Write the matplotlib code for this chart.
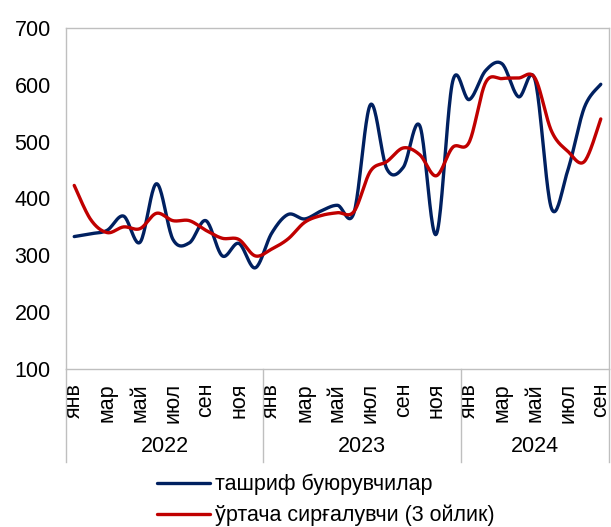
import numpy as np
import matplotlib
matplotlib.use('Agg')
import matplotlib.pyplot as plt
from matplotlib.lines import Line2D
import matplotlib.transforms as mtransforms

plt.rcParams['font.family'] = ['Liberation Sans', 'DejaVu Sans']

# ---- data ----
years = ['2022', '2023', '2024']
month_names = ['янв', 'фев', 'мар', 'апр', 'май', 'июн',
               'июл', 'авг', 'сен', 'окт', 'ноя', 'дек']
visitors = [333, 338, 344, 369, 323, 426, 328, 322, 361, 299, 321, 278,
            339, 372, 364, 378, 388, 375, 565, 452, 455, 528, 337, 606,
            574, 625, 637, 579, 609, 383, 450, 560, 601]
moving_avg = [423, 363, 340, 350, 347, 374, 361, 361, 344, 330, 328, 299,
              311, 329, 358, 370, 375, 377, 448, 465, 489, 477, 440, 490,
              499, 604, 611, 612, 612, 519, 483, 465, 540]
series_names = ['ташриф буюрувчилар', 'ўртача сирғалувчи (3 ойлик)']
colors = ['#002060', '#C00000']
yticks = [100, 200, 300, 400, 500, 600, 700]

n = len(visitors)
x = np.arange(n)
FS = 15.5


def smooth(xs, ys, steps=24):
    xs = np.asarray(xs, float)
    ys = np.asarray(ys, float)
    P = np.column_stack([xs, ys])
    out = []
    t = np.linspace(0, 1, steps)[:, None]
    for i in range(len(P) - 1):
        p0 = P[i - 1] if i > 0 else P[i]
        p1 = P[i]
        p2 = P[i + 1]
        p3 = P[i + 2] if i + 2 < len(P) else P[i + 1]
        c1 = p1 + (p2 - p0) / 6.0
        c2 = p2 - (p3 - p1) / 6.0
        seg = ((1 - t) ** 3) * p1 + 3 * ((1 - t) ** 2) * t * c1 + \
            3 * (1 - t) * t ** 2 * c2 + t ** 3 * p2
        out.append(seg if i == 0 else seg[1:])
    out = np.vstack(out)
    return out[:, 0], out[:, 1]


W, H = 611, 527
fig = plt.figure(figsize=(W / 100, H / 100), dpi=100)
L, R, T, B = 66, 609, 28, 369
ax = fig.add_axes([L / W, 1 - B / H, (R - L) / W, (B - T) / H])

for vals, c, lab in zip([visitors, moving_avg], colors, series_names):
    sx, sy = smooth(x, vals)
    ax.plot(sx, sy, color=c, lw=2.4, label=lab, solid_capstyle='round')

ax.set_xlim(-0.5, n - 0.5)
ax.set_ylim(100, 700)
ax.set_yticks(yticks)
ax.set_yticklabels([str(v) for v in yticks], fontsize=FS)
ax.tick_params(axis='y', length=0, pad=11)

month_ticks = list(range(0, n, 2))
ax.set_xticks(month_ticks)
ax.set_xticklabels([month_names[i % 12] for i in month_ticks],
                   rotation=90, fontsize=FS, va='top', ha='center')
ax.tick_params(axis='x', length=0, pad=10)

spine_c = '#BFBFBF'
for s in ax.spines.values():
    s.set_color(spine_c)
    s.set_linewidth(1.0)

# year group separators and labels
trans = mtransforms.blended_transform_factory(ax.transData, ax.transAxes)
sep_bottom = (B - 462) / (B - T)
for b in [-0.5, 11.5, 23.5, n - 0.5]:
    ax.add_line(Line2D([b, b], [0, sep_bottom], transform=trans,
                       color=spine_c, lw=1.0, clip_on=False))
year_y = (B - 447) / (B - T)
for k, yr in enumerate(years):
    start = k * 12 - 0.5
    end = min((k + 1) * 12 - 0.5, n - 0.5)
    ax.text((start + end) / 2, year_y, yr, transform=trans,
            ha='center', va='center', fontsize=FS)

handles, labels = ax.get_legend_handles_labels()
fig.legend(handles, labels, loc='center left',
           bbox_to_anchor=(157 / W, 1 - 500 / H), frameon=False,
           fontsize=FS, handlelength=2.45, handletextpad=0.25,
           labelspacing=0.45, borderpad=0, borderaxespad=0)

fig.savefig('out.png', dpi=100)
